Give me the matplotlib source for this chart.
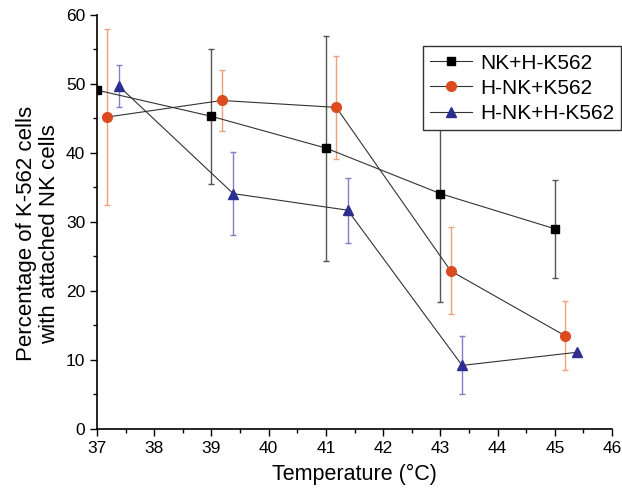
import numpy as np
from matplotlib import pyplot as plt
from matplotlib.ticker import MultipleLocator

plt.rcParams['font.family'] = ['Liberation Sans', 'DejaVu Sans']

# data (temperature offsets as in the figure)
temps = [37, 39, 41, 43, 45]
labels = ['NK+H-K562', 'H-NK+K562', 'H-NK+H-K562']

nk_hk562 = [49.1, 45.3, 40.7, 34.1, 29.0]
nk_hk562_err = [0.0, 9.8, 16.3, 15.7, 7.1]

hnk_k562 = [45.2, 47.6, 46.6, 22.9, 13.5]
hnk_k562_err = [12.8, 4.4, 7.5, 6.3, 5.0]

hnk_hk562 = [49.7, 34.1, 31.7, 9.2, 11.1]
hnk_hk562_err = [3.0, 6.0, 4.7, 4.2, 0.0]

x_shift = [0.0, 0.18, 0.38]

fig = plt.figure(figsize=(6.22, 4.97), dpi=100)
ax = fig.add_axes([0.156, 0.137, 0.828, 0.833])

series = [
    (nk_hk562, nk_hk562_err, 's', 'black', '#555555', 5.6),
    (hnk_k562, hnk_k562_err, 'o', '#dc4a1f', '#eaa27c', 7.0),
    (hnk_hk562, hnk_hk562_err, '^', '#2c2e90', '#8080c6', 7.4),
]

for i, (vals, errs, mk, col, ecol, ms) in enumerate(series):
    xs = np.array(temps) + x_shift[i]
    ax.errorbar(xs, vals, yerr=errs, fmt='none', ecolor=ecol,
                elinewidth=1.0, capsize=2.0, capthick=1.0, zorder=2)
    ax.plot(xs, vals, color='#333333', lw=0.8, marker=mk, markersize=ms,
            markerfacecolor=col, markeredgecolor=col, label=labels[i], zorder=3)

ax.set_xlim(37, 46)
ax.set_ylim(0, 60)
ax.xaxis.set_major_locator(MultipleLocator(1))
ax.xaxis.set_minor_locator(MultipleLocator(0.5))
ax.yaxis.set_major_locator(MultipleLocator(10))
ax.yaxis.set_minor_locator(MultipleLocator(5))
ax.tick_params(which='major', direction='out', length=5, width=1, labelsize=12.5)
ax.tick_params(which='minor', direction='out', length=3, width=1)

ax.spines['top'].set_visible(False)
ax.spines['right'].set_visible(False)
ax.spines['left'].set_linewidth(1.2)
ax.spines['bottom'].set_linewidth(1.2)

ax.set_xlabel('Temperature (\u00b0C)', fontsize=15.5, labelpad=6)
ax.set_ylabel('Percentage of K-562 cells\nwith attached NK cells', fontsize=16,
              linespacing=1.15)
ax.yaxis.set_label_coords(-0.072, 0.471)

leg = ax.legend(loc='upper right', bbox_to_anchor=(0.999, 0.907),
                bbox_transform=fig.transFigure, fontsize=15, frameon=True,
                fancybox=False, edgecolor='#333333', framealpha=1,
                handlelength=2.0, labelspacing=0.3, borderpad=0.35,
                handletextpad=0.4, borderaxespad=0)
leg.get_frame().set_linewidth(1.0)

plt.savefig('out.png', dpi=100)
